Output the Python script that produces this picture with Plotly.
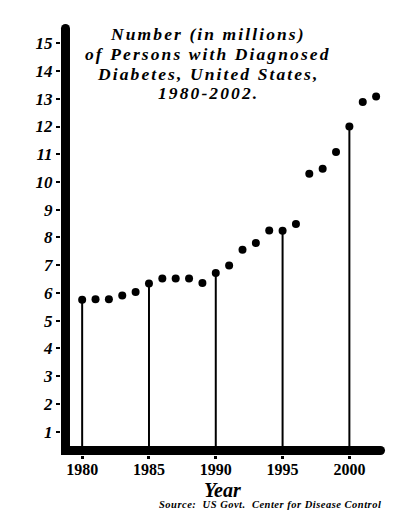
import plotly.graph_objects as go

# ---- data ----
years = list(range(1980, 2003))
persons_millions = [5.75, 5.77, 5.77, 5.91, 6.03, 6.34, 6.52, 6.52, 6.52, 6.36,
                    6.72, 6.99, 7.56, 7.80, 8.25, 8.24, 8.48, 10.30, 10.48, 11.08,
                    12.00, 12.88, 13.08]
stem_years = [1980, 1985, 1990, 1995, 2000]
x_tick_vals = [1980, 1985, 1990, 1995, 2000]
x_tick_text = ["1980", "1985", "1990", "1995", "2000"]
y_tick_vals = list(range(1, 16))
y_tick_text = [str(v) for v in y_tick_vals]
title_lines = ["Number (in millions)", "of Persons with Diagnosed",
               "Diabetes, United States,", "1980-2002."]
x_title = "Year"
source_text = "Source:  US Govt.  Center for Disease Control"

# ---- layout constants ----
OFF = 8  # default page body margin
W, H = 396 - OFF, 522 - OFF
XR = [1978.416, 2003.04]
YR = [0.155, 15.84]
FX0, FX1 = 1978.752, 2002.33   # axis frame (x-axis from FX0 to FX1)
FY0, FY1 = 0.317, 15.537       # axis frame (y-axis from FY0 to FY1)
SERIF = "Liberation Serif, Times New Roman, serif"

lookup = dict(zip(years, persons_millions))

fig = go.Figure()

# stems
sx, sy = [], []
for yr in stem_years:
    sx += [yr, yr, None]
    sy += [FY0, lookup[yr], None]
fig.add_trace(go.Scatter(x=sx, y=sy, mode="lines",
                         line=dict(color="black", width=2),
                         hoverinfo="skip", showlegend=False))

# axis frame
fig.add_trace(go.Scatter(x=[FX0, FX0, FX1], y=[FY1, FY0, FY0], mode="lines",
                         line=dict(color="black", width=9),
                         hoverinfo="skip", showlegend=False, cliponaxis=False))
fig.add_trace(go.Scatter(x=[FX0, FX1], y=[FY1, FY0], mode="markers",
                         marker=dict(color="black", size=9, line=dict(width=0)),
                         hoverinfo="skip", showlegend=False, cliponaxis=False))

# data points
fig.add_trace(go.Scatter(x=years, y=persons_millions, mode="markers",
                         marker=dict(color="black", size=8, line=dict(width=0)),
                         showlegend=False, cliponaxis=False))

l, r, t, b = 60.5 - OFF, 6, 20 - OFF, 66.5
pw, ph = W - l - r, H - t - b

def px_x(px):   # page pixel -> paper
    return (px - OFF - l) / pw

def px_y(py):
    return (H - b - (py - OFF)) / ph

def spaced(txt, ls):
    return '<span style="letter-spacing:%spx">%s</span>' % (ls, txt)

title_y_px = [34.5, 54.2, 74, 93.3]
annotations = []
for line, ypx in zip(title_lines, title_y_px):
    annotations.append(dict(text=spaced(line, 2.1), xref="paper", yref="paper",
                            x=px_x(208), y=px_y(ypx), xanchor="center", yanchor="middle",
                            showarrow=False,
                            font=dict(family=SERIF, size=17.5, color="black",
                                      weight="bold", style="italic")))
annotations.append(dict(text=x_title, xref="paper", yref="paper",
                        x=px_x(222), y=px_y(490.5), xanchor="center", yanchor="middle",
                        showarrow=False,
                        font=dict(family=SERIF, size=20, color="black",
                                  weight="bold", style="italic")))
annotations.append(dict(text=spaced(source_text, 0.5), xref="paper", yref="paper",
                        x=px_x(382.5), y=px_y(505.5), xanchor="right", yanchor="middle",
                        showarrow=False,
                        font=dict(family=SERIF, size=10.5, color="black",
                                  weight="bold", style="italic")))

fig.update_layout(
    width=W, height=H,
    margin=dict(l=l, r=r, t=t, b=b, autoexpand=False),
    paper_bgcolor="white", plot_bgcolor="white",
    annotations=annotations,
    xaxis=dict(range=XR, showgrid=False, zeroline=False, showline=False,
               tickmode="array", tickvals=x_tick_vals, ticktext=x_tick_text,
               ticks="outside", ticklen=3, tickwidth=3, tickcolor="black",
               ticklabelstandoff=-3,
               tickfont=dict(family=SERIF, size=16, color="black", weight="bold"),
               fixedrange=True),
    yaxis=dict(range=YR, showgrid=False, zeroline=False, showline=False,
               tickmode="array", tickvals=y_tick_vals, ticktext=y_tick_text,
               ticks="outside", ticklen=4, tickwidth=2, tickcolor="black",
               tickfont=dict(family=SERIF, size=17, color="black",
                             weight="bold", style="italic"),
               fixedrange=True),
)

fig.write_html("out.html", config={"displayModeBar": False})
